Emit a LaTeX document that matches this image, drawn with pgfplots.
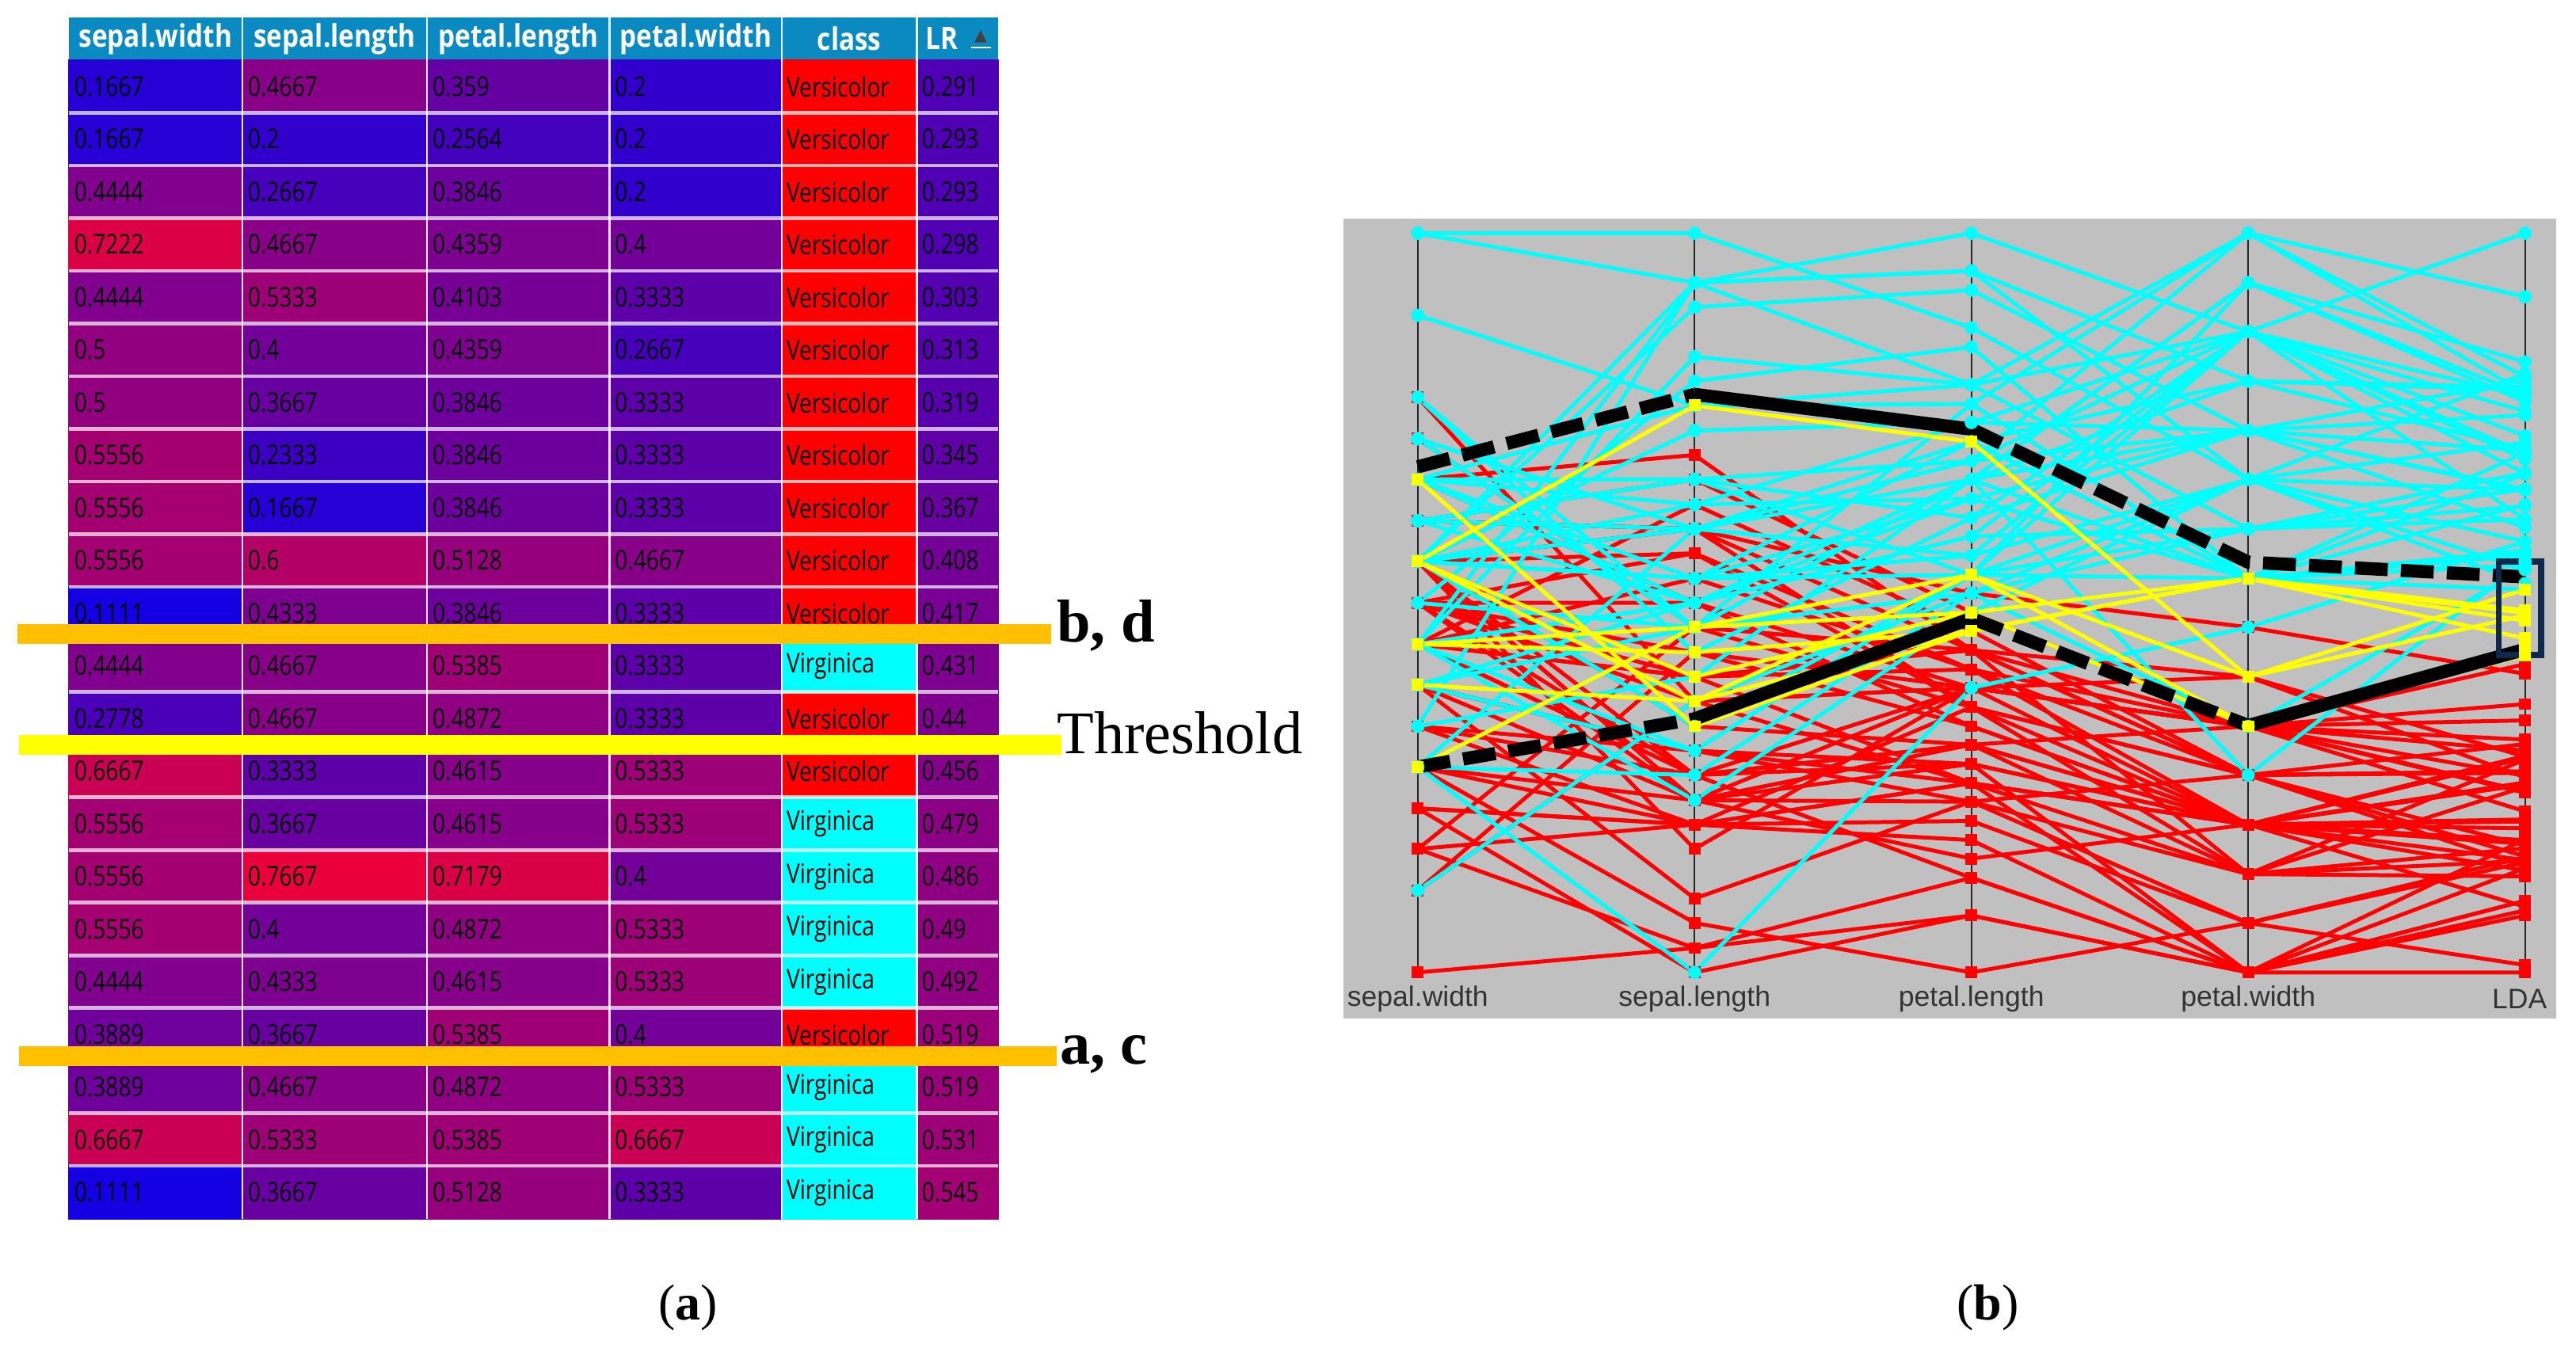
\documentclass[border=0pt]{standalone}
\usepackage{pgfplots}
\usepackage{pgfplotstable}
\pgfplotsset{compat=1.18}
\usepackage{fontspec}
\setmainfont{Liberation Serif}
\newfontfamily\uisans{Open Sans}
\newfontfamily\arialf{Liberation Sans}
\newfontfamily\dejavu{DejaVu Sans}

\definecolor{hdr}{RGB}{10,138,192}
\definecolor{orng}{RGB}{255,192,0}
\definecolor{ylw}{RGB}{255,255,0}
\definecolor{pcgray}{RGB}{192,192,192}
\definecolor{vcred}{RGB}{255,0,0}
\definecolor{vgcyan}{RGB}{0,255,255}
\definecolor{navy}{RGB}{15,40,75}

% table (a): normalized values and LR score, rows in displayed order
\pgfplotstableread{
row sw     sl     pl     pw     lr
1   0.1667 0.4667 0.359  0.2    0.291
2   0.1667 0.2    0.2564 0.2    0.293
3   0.4444 0.2667 0.3846 0.2    0.293
4   0.7222 0.4667 0.4359 0.4    0.298
5   0.4444 0.5333 0.4103 0.3333 0.303
6   0.5    0.4    0.4359 0.2667 0.313
7   0.5    0.3667 0.3846 0.3333 0.319
8   0.5556 0.2333 0.3846 0.3333 0.345
9   0.5556 0.1667 0.3846 0.3333 0.367
10  0.5556 0.6    0.5128 0.4667 0.408
11  0.1111 0.4333 0.3846 0.3333 0.417
12  0.4444 0.4667 0.5385 0.3333 0.431
13  0.2778 0.4667 0.4872 0.3333 0.44
14  0.6667 0.3333 0.4615 0.5333 0.456
15  0.5556 0.3667 0.4615 0.5333 0.479
16  0.5556 0.7667 0.7179 0.4    0.486
17  0.5556 0.4    0.4872 0.5333 0.49
18  0.4444 0.4333 0.4615 0.5333 0.492
19  0.3889 0.3667 0.5385 0.4    0.519
20  0.3889 0.4667 0.4872 0.5333 0.519
21  0.6667 0.5333 0.5385 0.6667 0.531
22  0.1111 0.3667 0.5128 0.3333 0.545
}\celltab

\pgfplotsset{
  cellfill/.style={scatter, only marks, mark=square*, mark size=8.04bp, point meta=explicit,
    scatter/use mapped color={draw=mapped color, fill=mapped color}},
  celltext/.style={only marks, mark=*, mark size=0.01pt, mark options={opacity=0}, point meta=explicit,
    nodes near coords={\scalebox{0.82}[1]{\pgfmathprintnumber[fixed,precision=4,assume math mode=true]{\pgfplotspointmeta}}},
    nodes near coords align=horizontal,
    every node near coord/.append style={font=\uisans\fontsize{8.3}{9}\selectfont, text=black, text opacity=1, inner sep=0pt}},
  cellcls/.style={only marks, mark=square*, mark size=8.04bp,
    nodes near coords align=horizontal,
    every node near coord/.append style={font=\uisans\fontsize{8.3}{9}\selectfont, text=black, inner sep=0pt, xshift=-19.3bp}},
  vc/.style={vcred, line width=1.2bp, mark=square*, mark size=1.2bp, mark options={solid}},
  vg/.style={vgcyan, line width=1.2bp, mark=*, mark size=1.4bp, mark options={solid}},
  yl/.style={ylw, line width=1.2bp, mark=square*, mark size=1.2bp, mark options={solid}},
  bk/.style={black, line width=4bp, no marks, line join=round},
  bkd/.style={black, line width=4bp, no marks, dash pattern=on 10bp off 4bp},
}

\begin{document}
\begin{tikzpicture}
\useasboundingbox (0,0) rectangle (784bp,410.3bp);
\begin{scope}[x=0.5bp,y=-0.5bp,shift={(0,410.3bp)}]
  \fill[pcgray] (818,133) rectangle (1556,620);
\end{scope}

% ---------------- (a) table ----------------
\begin{axis}[at={(20.9bp,39.3bp)}, anchor=south west, scale only axis,
  width=282.9bp, height=365.75bp,
  xmin=41.8, xmax=607.6, ymin=-0.314, ymax=22.5, y dir=reverse,
  hide axis, clip=false,
  colormap={lrmap}{rgb255(0cm)=(0,0,255); rgb255(0.05cm)=(0,0,242); rgb255(0.83cm)=(255,0,43); rgb255(1cm)=(255,0,0)},
  point meta min=0, point meta max=1]
\fill[hdr] (axis cs:41.8,-0.314) rectangle (axis cs:607.6,0.5);
% coloured cells
\addplot[cellfill, mark options={xscale=3.287}] table[x expr=94.65, y=row, meta=sw] {\celltab};
\addplot[cellfill, mark options={xscale=3.498}] table[x expr=203.75, y=row, meta=sl] {\celltab};
\addplot[cellfill, mark options={xscale=3.451}] table[x expr=315.5, y=row, meta=pl] {\celltab};
\addplot[cellfill, mark options={xscale=3.265}] table[x expr=423.5, y=row, meta=pw] {\celltab};
\addplot[cellfill, mark options={xscale=1.542}] table[x expr=582.8, y=row, meta=lr] {\celltab};
% cell texts
\addplot[celltext, every node near coord/.append style={xshift=-24.9bp}] table[x expr=94.65, y=row, meta=sw] {\celltab};
\addplot[celltext, every node near coord/.append style={xshift=-26.6bp}] table[x expr=203.75, y=row, meta=sl] {\celltab};
\addplot[celltext, every node near coord/.append style={xshift=-26.3bp}] table[x expr=315.5, y=row, meta=pl] {\celltab};
\addplot[celltext, every node near coord/.append style={xshift=-24.8bp}] table[x expr=423.5, y=row, meta=pw] {\celltab};
\addplot[celltext, every node near coord/.append style={xshift=-11.0bp}] table[x expr=582.8, y=row, meta=lr] {\celltab};
% class
\addplot[cellcls, vcred, mark options={xscale=2.55, fill=vcred, draw=vcred},
  nodes near coords={\scalebox{0.82}[1]{Versicolor}}] coordinates {
(517,1) (517,2) (517,3) (517,4) (517,5) (517,6) (517,7) (517,8) (517,9) (517,10)
(517,11) (517,13) (517,14) (517,19)};
\addplot[cellcls, vgcyan, mark options={xscale=2.55, fill=vgcyan, draw=vgcyan},
  nodes near coords={\scalebox{0.82}[1]{Virginica}}] coordinates {
(517,12) (517,15) (517,16) (517,17) (517,18) (517,20) (517,21) (517,22)};
% header text
\begin{scope}[every node/.style={text=white, inner sep=0pt, font=\uisans\bfseries\fontsize{9.5}{10}\selectfont}]
\node at (axis cs:94.65,0.093) {\scalebox{0.85}[1]{sepal.width}};
\node at (axis cs:203.75,0.093) {\scalebox{0.85}[1]{sepal.length}};
\node at (axis cs:315.5,0.093) {\scalebox{0.85}[1]{petal.length}};
\node at (axis cs:423.5,0.093) {\scalebox{0.85}[1]{petal.width}};
\node at (axis cs:517,0.093) {\scalebox{0.85}[1]{class}};
\node[anchor=west] at (axis cs:563,0.093) {\scalebox{0.85}[1]{LR}};
\end{scope}
\node[inner sep=0pt, text=black!75, font=\dejavu\fontsize{5}{5}\selectfont] at (axis cs:597,0.05) {▲};
\end{axis}

% table separators (on top of the cells)
\begin{scope}[x=0.5bp,y=-0.5bp,shift={(0,410.3bp)}]
  \foreach \k in {1,...,21} {
    \draw[white, opacity=0.7, line width=1.1bp] (41.8,36.6+32.06*\k) -- (607.6,36.6+32.06*\k);}
  \foreach \xx in {147.5,260,371,476,558} {
    \draw[white, opacity=0.9, line width=0.6bp] (\xx,10.5) -- (\xx,742);}
  \draw[white, line width=0.6bp] (591,29) -- (603,29);
\end{scope}

% ---------------- (b) parallel coordinates ----------------
\begin{axis}[at={(409bp,100.3bp)}, anchor=south west, scale only axis,
  width=369bp, height=243.5bp,
  xmin=-0.267, xmax=4.113, ymin=-0.0622, ymax=1.02,
  hide axis, clip=false]
\pgfplotsinvokeforeach{0,1,2,3,4}{
  \draw[black!85, line width=0.55bp] (axis cs:#1,0) -- (axis cs:#1,1);}
% Versicolor
\addplot[vc] coordinates {(0,.667)(1,.7)(2,.436)(3,.267)(4,.157)};
\addplot[vc] coordinates {(0,.667)(1,.5)(2,.385)(3,.333)(4,.218)};
\addplot[vc] coordinates {(0,.611)(1,.667)(2,.487)(3,.333)(4,.266)};
\addplot[vc] coordinates {(0,.167)(1,.2)(2,.256)(3,.2)(4,.293)};
\addplot[vc] coordinates {(0,.444)(1,.533)(2,.41)(3,.333)(4,.30)};
\addplot[vc] coordinates {(0,.444)(1,.267)(2,.385)(3,.2)(4,.29)};
\addplot[vc] coordinates {(0,.722)(1,.467)(2,.436)(3,.4)(4,.292)};
\addplot[vc] coordinates {(0,.222)(1,0)(2,.077)(3,0)(4,.077)};
\addplot[vc] coordinates {(0,.5)(1,.567)(2,.41)(3,.2)(4,.195)};
\addplot[vc] coordinates {(0,.389)(1,.1)(2,.231)(3,.267)(4,.272)};
\addplot[vc] coordinates {(0,0)(1,.033)(2,.128)(3,0)(4,.18)};
\addplot[vc] coordinates {(0,.556)(1,.333)(2,.308)(3,.333)(4,.243)};
\addplot[vc] coordinates {(0,.111)(1,.367)(2,.256)(3,0)(4,.141)};
\addplot[vc] coordinates {(0,.5)(1,.4)(2,.436)(3,.267)(4,.309)};
\addplot[vc] coordinates {(0,.5)(1,.233)(2,.154)(3,.2)(4,.089)};
\addplot[vc] coordinates {(0,.611)(1,.6)(2,.359)(3,.267)(4,.143)};
\addplot[vc] coordinates {(0,.556)(1,.233)(2,.385)(3,.333)(4,.341)};
\addplot[vc] coordinates {(0,.389)(1,.3)(2,.282)(3,0)(4,.097)};
\addplot[vc] coordinates {(0,.111)(1,.433)(2,.385)(3,.333)(4,.417)};
\addplot[vc] coordinates {(0,.278)(1,.233)(2,.231)(3,.067)(4,.149)};
\addplot[vc] coordinates {(0,.444)(1,.4)(2,.256)(3,.2)(4,.138)};
\addplot[vc] coordinates {(0,.444)(1,.4)(2,.436)(3,.133)(4,.251)};
\addplot[vc] coordinates {(0,.5)(1,.5)(2,.333)(3,.2)(4,.152)};
\addplot[vc] coordinates {(0,.556)(1,.567)(2,.359)(3,.267)(4,.172)};
\addplot[vc] coordinates {(0,.444)(1,.633)(2,.462)(3,.267)(4,.272)};
\addplot[vc] coordinates {(0,.556)(1,.6)(2,.513)(3,.467)(4,.404)};
\addplot[vc] coordinates {(0,.5)(1,.367)(2,.385)(3,.333)(4,.315)};
\addplot[vc] coordinates {(0,.333)(1,.267)(2,.128)(3,0)(4,0)};
\addplot[vc] coordinates {(0,.222)(1,.2)(2,.205)(3,.067)(4,.156)};
\addplot[vc] coordinates {(0,.222)(1,.2)(2,.179)(3,0)(4,.097)};
\addplot[vc] coordinates {(0,.389)(1,.3)(2,.231)(3,.133)(4,.13)};
\addplot[vc] coordinates {(0,.556)(1,.167)(2,.385)(3,.333)(4,.363)};
\addplot[vc] coordinates {(0,.778)(1,.367)(2,.385)(3,.4)(4,.264)};
\addplot[vc] coordinates {(0,.611)(1,.6)(2,.436)(3,.333)(4,.245)};
\addplot[vc] coordinates {(0,.167)(1,.467)(2,.359)(3,.2)(4,.292)};
\addplot[vc] coordinates {(0,.556)(1,.233)(2,.282)(3,.2)(4,.179)};
\addplot[vc] coordinates {(0,.278)(1,.2)(2,.256)(3,.2)(4,.257)};
\addplot[vc] coordinates {(0,.333)(1,.2)(2,.359)(3,.133)(4,.288)};
\addplot[vc] coordinates {(0,.556)(1,.4)(2,.41)(3,.267)(4,.27)};
\addplot[vc] coordinates {(0,.333)(1,.3)(2,.256)(3,.133)(4,.168)};
\addplot[vc] coordinates {(0,.167)(1,.033)(2,.077)(3,0)(4,.084)};
\addplot[vc] coordinates {(0,.389)(1,.233)(2,.308)(3,.2)(4,.254)};
\addplot[vc] coordinates {(0,.556)(1,.267)(2,.308)(3,.133)(4,.151)};
\addplot[vc] coordinates {(0,.5)(1,.267)(2,.308)(3,.2)(4,.207)};
\addplot[vc] coordinates {(0,.5)(1,.433)(2,.333)(3,.2)(4,.174)};
\addplot[vc] coordinates {(0,.278)(1,.067)(2,0)(3,.067)(4,.01)};
\addplot[vc] coordinates {(0,.444)(1,.267)(2,.282)(3,.2)(4,.204)};
% Virginica
\addplot[vg] coordinates {(0,.722)(1,.467)(2,.769)(3,1)(4,.914)};
\addplot[vg] coordinates {(0,.389)(1,.3)(2,.538)(3,.6)(4,.654)};
\addplot[vg] coordinates {(0,.556)(1,.733)(2,.744)(3,.733)(4,.706)};
\addplot[vg] coordinates {(0,.5)(1,.467)(2,.667)(3,.533)(4,.633)};
\addplot[vg] coordinates {(0,.556)(1,.533)(2,.718)(3,.8)(4,.788)};
\addplot[vg] coordinates {(0,.556)(1,.9)(2,.923)(3,.733)(4,.801)};
\addplot[vg] coordinates {(0,.278)(1,0)(2,.385)(3,.467)(4,.583)};
\addplot[vg] coordinates {(0,.5)(1,.8)(2,.846)(3,.533)(4,.674)};
\addplot[vg] coordinates {(0,.278)(1,.6)(2,.718)(3,.533)(4,.703)};
\addplot[vg] coordinates {(0,.889)(1,.767)(2,.795)(3,1)(4,.784)};
\addplot[vg] coordinates {(0,.667)(1,.533)(2,.538)(3,.667)(4,.526)};
\addplot[vg] coordinates {(0,.389)(1,.5)(2,.59)(3,.6)(4,.631)};
\addplot[vg] coordinates {(0,.556)(1,.633)(2,.641)(3,.733)(4,.652)};
\addplot[vg] coordinates {(0,.278)(1,.267)(2,.513)(3,.667)(4,.717)};
\addplot[vg] coordinates {(0,.444)(1,.3)(2,.538)(3,.933)(4,.826)};
\addplot[vg] coordinates {(0,.667)(1,.5)(2,.59)(3,.867)(4,.694)};
\addplot[vg] coordinates {(0,.556)(1,.533)(2,.641)(3,.533)(4,.571)};
\addplot[vg] coordinates {(0,1)(1,.933)(2,.949)(3,.8)(4,.708)};
\addplot[vg] coordinates {(0,.333)(1,.933)(2,1)(3,.867)(4,1)};
\addplot[vg] coordinates {(0,.111)(1,.367)(2,.513)(3,.333)(4,.547)};
\addplot[vg] coordinates {(0,.667)(1,.667)(2,.692)(3,.867)(4,.726)};
\addplot[vg] coordinates {(0,.444)(1,.233)(2,.487)(3,.667)(4,.653)};
\addplot[vg] coordinates {(0,.444)(1,.933)(2,.949)(3,.667)(4,.81)};
\addplot[vg] coordinates {(0,.389)(1,.467)(2,.487)(3,.533)(4,.518)};
\addplot[vg] coordinates {(0,.722)(1,.6)(2,.692)(3,.733)(4,.654)};
\addplot[vg] coordinates {(0,.667)(1,.767)(2,.769)(3,.533)(4,.567)};
\addplot[vg] coordinates {(0,.444)(1,.5)(2,.667)(3,.733)(4,.754)};
\addplot[vg] coordinates {(0,.444)(1,.833)(2,.795)(3,.6)(4,.676)};
\addplot[vg] coordinates {(0,1)(1,1)(2,.872)(3,.667)(4,.545)};
\addplot[vg] coordinates {(0,.444)(1,.5)(2,.667)(3,.8)(4,.792)};
\addplot[vg] coordinates {(0,.333)(1,.4)(2,.667)(3,.267)(4,.556)};
\addplot[vg] coordinates {(0,.556)(1,.933)(2,.795)(3,.867)(4,.759)};
\addplot[vg] coordinates {(0,.778)(1,.467)(2,.667)(3,.933)(4,.772)};
\addplot[vg] coordinates {(0,.611)(1,.5)(2,.641)(3,.533)(4,.564)};
\addplot[vg] coordinates {(0,.611)(1,.667)(2,.615)(3,.733)(4,.602)};
\addplot[vg] coordinates {(0,.611)(1,.6)(2,.667)(3,.933)(4,.781)};
\addplot[vg] coordinates {(0,.611)(1,.667)(2,.538)(3,.867)(4,.613)};
\addplot[vg] coordinates {(0,.667)(1,.633)(2,.744)(3,.867)(4,.78)};
\addplot[vg] coordinates {(0,.722)(1,.6)(2,.692)(3,1)(4,.806)};
\addplot[vg] coordinates {(0,.556)(1,.6)(2,.564)(3,.867)(4,.675)};
\addplot[vg] coordinates {(0,.278)(1,.467)(2,.513)(3,.6)(4,.613)};
\addplot[vg] coordinates {(0,.556)(1,.533)(2,.564)(3,.667)(4,.583)};
\addplot[vg] coordinates {(0,.778)(1,.433)(2,.615)(3,.867)(4,.702)};
\addplot[vg] coordinates {(0,.556)(1,.333)(2,.538)(3,.533)(4,.551)};
% highlighted (yellow)
\addplot[yl] coordinates {(0,.444)(1,.467)(2,.538)(3,.333)(4,.429)};
\addplot[yl] coordinates {(0,.278)(1,.467)(2,.487)(3,.333)(4,.439)};
\addplot[yl] coordinates {(0,.667)(1,.333)(2,.462)(3,.533)(4,.452)};
\addplot[yl] coordinates {(0,.556)(1,.367)(2,.462)(3,.533)(4,.476)};
\addplot[yl] coordinates {(0,.556)(1,.767)(2,.718)(3,.4)(4,.483)};
\addplot[yl] coordinates {(0,.556)(1,.4)(2,.487)(3,.533)(4,.486)};
\addplot[yl] coordinates {(0,.444)(1,.433)(2,.462)(3,.533)(4,.49)};
\addplot[yl] coordinates {(0,.389)(1,.367)(2,.538)(3,.4)(4,.518)};
% black boundary lines
\addplot[bkd] coordinates {(0,.684)(1,.782)};
\addplot[bk]  coordinates {(1,.782)(2,.735)};
\addplot[bkd] coordinates {(2,.735)(3,.555)(4,.535)};
\addplot[bkd] coordinates {(0,.278)(1,.343)};
\addplot[bk]  coordinates {(1,.343)(2,.479)};
\addplot[bkd] coordinates {(2,.479)(3,.334)};
\addplot[bk]  coordinates {(3,.334)(4,.437)};
\draw[navy, line width=1.9bp] (axis cs:3.905,0.429) rectangle (axis cs:4.059,0.556);
\begin{scope}[every node/.style={inner sep=0pt, text=black!80, font=\arialf\fontsize{8.6}{9}\selectfont}]
\node at (axis cs:0,-0.036) {sepal.width};
\node at (axis cs:1,-0.036) {sepal.length};
\node at (axis cs:2,-0.036) {petal.length};
\node at (axis cs:3,-0.036) {petal.width};
\node at (axis cs:3.98,-0.036) {LDA};
\end{scope}
\end{axis}

% ---------------- overlays and captions ----------------
\begin{scope}[x=0.5bp,y=-0.5bp,shift={(0,410.3bp)}]
  \fill[orng] (10.5,380) rectangle (640,392);
  \fill[ylw] (11.5,447.5) rectangle (646,459.5);
  \fill[orng] (11.5,637) rectangle (643,649);
  \node[anchor=base west, inner sep=0pt, font=\fontsize{18.5}{20}\selectfont\bfseries] at (643,391) {b, d};
  \node[anchor=base west, inner sep=0pt, font=\fontsize{18.5}{20}\selectfont] at (643,459) {Threshold};
  \node[anchor=base west, inner sep=0pt, font=\fontsize{18.5}{20}\selectfont\bfseries] at (645,648) {a, c};
  \node[anchor=base, inner sep=0pt, font=\fontsize{15.5}{17}\selectfont] at (419,803.6) {(\textbf{a})};
  \node[anchor=base, inner sep=0pt, font=\fontsize{15.5}{17}\selectfont] at (1210,803.6) {(\textbf{b})};
\end{scope}
\end{tikzpicture}
\end{document}
